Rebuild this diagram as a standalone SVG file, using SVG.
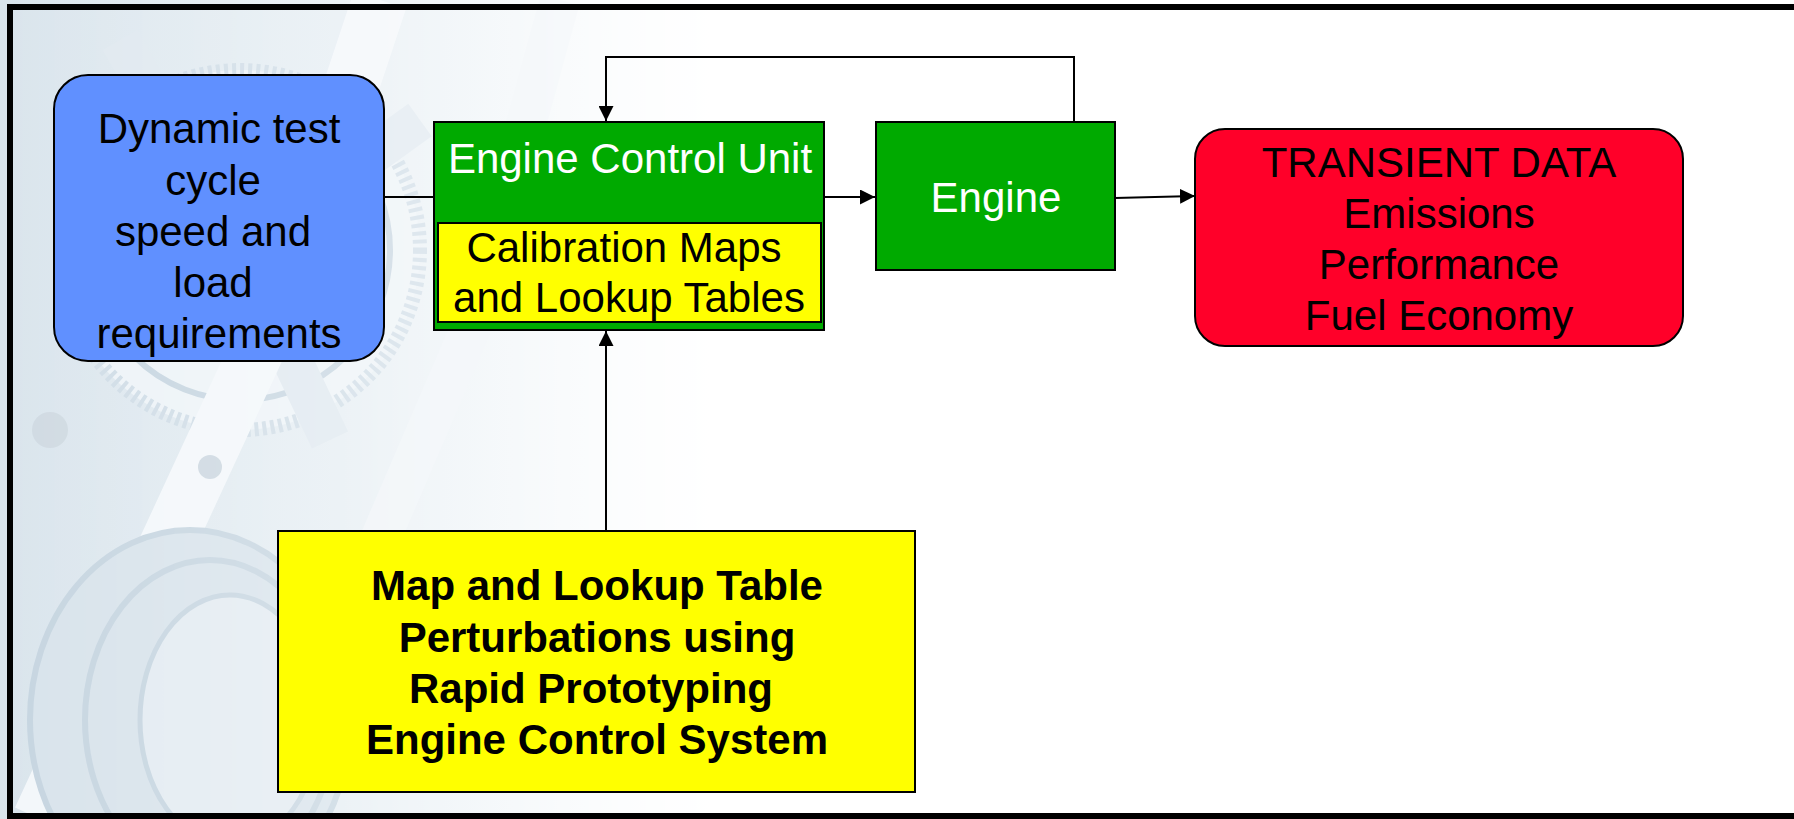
<svg xmlns="http://www.w3.org/2000/svg" width="1794" height="819" viewBox="0 0 1794 819">
  <defs>
    <linearGradient id="bgfade" x1="0" y1="0" x2="1" y2="0">
      <stop offset="0" stop-color="#d9e4ec"/>
      <stop offset="0.45" stop-color="#e6eef3"/>
      <stop offset="1" stop-color="#ffffff"/>
    </linearGradient>
    <linearGradient id="wmfade" x1="0" y1="0" x2="1" y2="0">
      <stop offset="0" stop-color="#fff" stop-opacity="1"/>
      <stop offset="0.7" stop-color="#fff" stop-opacity="0.6"/>
      <stop offset="1" stop-color="#fff" stop-opacity="0"/>
    </linearGradient>
    <mask id="wmmask">
      <rect x="0" y="0" width="760" height="819" fill="url(#wmfade)"/>
    </mask>
    <marker id="arrow" markerWidth="15" markerHeight="15" refX="15" refY="7.5" orient="auto" markerUnits="userSpaceOnUse">
      <path d="M0,0 L15,7.5 L0,15 z" fill="#000"/>
    </marker>
  </defs>
  <style>
    .box { stroke: #000; stroke-width: 2; }
    .blue { fill: #6090ff; }
    .green { fill: #00aa00; }
    .yellow { fill: #ffff00; }
    .red { fill: #ff0029; }
    .t { font-family: "Liberation Sans", Arial, sans-serif; font-size: 42px; text-anchor: middle; fill: #000; }
    .w { fill: #fff; }
    .b { font-weight: bold; }
    .conn { fill: none; stroke: #000; stroke-width: 2; }
    .wm { fill: none; stroke: #c6d5e0; }
  </style>

  <rect x="0" y="0" width="1794" height="819" fill="#fff"/>

  <!-- faint background watermark (engine parts) -->
  <g id="background" mask="url(#wmmask)">
    <rect x="0" y="0" width="760" height="819" fill="url(#bgfade)"/>
    <circle cx="240" cy="250" r="180" fill="#edf3f7" stroke="#cfdce6" stroke-width="14" stroke-dasharray="4 4"/>
    <circle cx="240" cy="250" r="150" class="wm" stroke-width="6"/>
    <path d="M240,250 L120,40 M240,250 L420,120 M240,250 L60,330 M240,250 L330,440" stroke="#dfe8ef" stroke-width="40" fill="none"/>
    <path d="M40,819 L280,300 L380,0" stroke="#f3f7fa" stroke-width="55" fill="none"/>
    <path d="M260,819 L470,330 L560,0" stroke="#eef3f7" stroke-width="40" fill="none"/>
    <ellipse cx="190" cy="720" rx="160" ry="190" fill="#d8e3eb" stroke="#c6d5e0" stroke-width="6"/>
    <ellipse cx="210" cy="720" rx="125" ry="160" class="wm" stroke-width="6"/>
    <ellipse cx="230" cy="720" rx="90" ry="125" fill="#e3ebf1" stroke="#c6d5e0" stroke-width="5"/>
    <circle cx="95" cy="120" r="22" fill="#ccd7e0"/>
    <circle cx="210" cy="467" r="12" fill="#ccd7e0"/>
    <circle cx="50" cy="430" r="18" fill="#d0dae2"/>
  </g>

  <!-- outer frame -->
  <path d="M1794,7 H10 V816 H1794" fill="none" stroke="#000" stroke-width="6"/>

  <g id="connectors">
    <line class="conn" x1="384" y1="197" x2="434" y2="197"/>
    <line class="conn" x1="824" y1="197" x2="875" y2="197" marker-end="url(#arrow)"/>
    <line class="conn" x1="1115" y1="198" x2="1195" y2="196" marker-end="url(#arrow)"/>
    <polyline class="conn" points="1074,121 1074,57 606,57 606,121" marker-end="url(#arrow)"/>
    <line class="conn" x1="606" y1="531" x2="606" y2="331" marker-end="url(#arrow)"/>
  </g>

  <g id="node-dynamic-test-cycle">
    <rect class="box blue" x="54" y="75" width="330" height="286" rx="34" ry="34"/>
    <text class="t" x="219" y="143">Dynamic test</text>
    <text class="t" x="213" y="195">cycle</text>
    <text class="t" x="213" y="246">speed and</text>
    <text class="t" x="213" y="297">load</text>
    <text class="t" x="219" y="348">requirements</text>
  </g>

  <g id="node-ecu">
    <rect class="box green" x="434" y="122" width="390" height="208"/>
    <text class="t w" x="630" y="173">Engine Control Unit</text>
  </g>

  <g id="node-calibration-maps">
    <rect class="box yellow" x="438" y="223" width="383" height="99"/>
    <text class="t" x="624" y="262">Calibration Maps</text>
    <text class="t" x="629" y="312">and Lookup Tables</text>
  </g>

  <g id="node-engine">
    <rect class="box green" x="876" y="122" width="239" height="148"/>
    <text class="t w" x="996" y="212">Engine</text>
  </g>

  <g id="node-transient-data">
    <rect class="box red" x="1195" y="129" width="488" height="217" rx="30" ry="30"/>
    <text class="t" x="1439" y="177">TRANSIENT DATA</text>
    <text class="t" x="1439" y="228">Emissions</text>
    <text class="t" x="1439" y="279">Performance</text>
    <text class="t" x="1439" y="330">Fuel Economy</text>
  </g>

  <g id="node-perturbations">
    <rect class="box yellow" x="278" y="531" width="637" height="261"/>
    <text class="t b" x="597" y="600">Map and Lookup Table</text>
    <text class="t b" x="597" y="652">Perturbations using</text>
    <text class="t b" x="591" y="703">Rapid Prototyping</text>
    <text class="t b" x="597" y="754">Engine Control System</text>
  </g>
</svg>
